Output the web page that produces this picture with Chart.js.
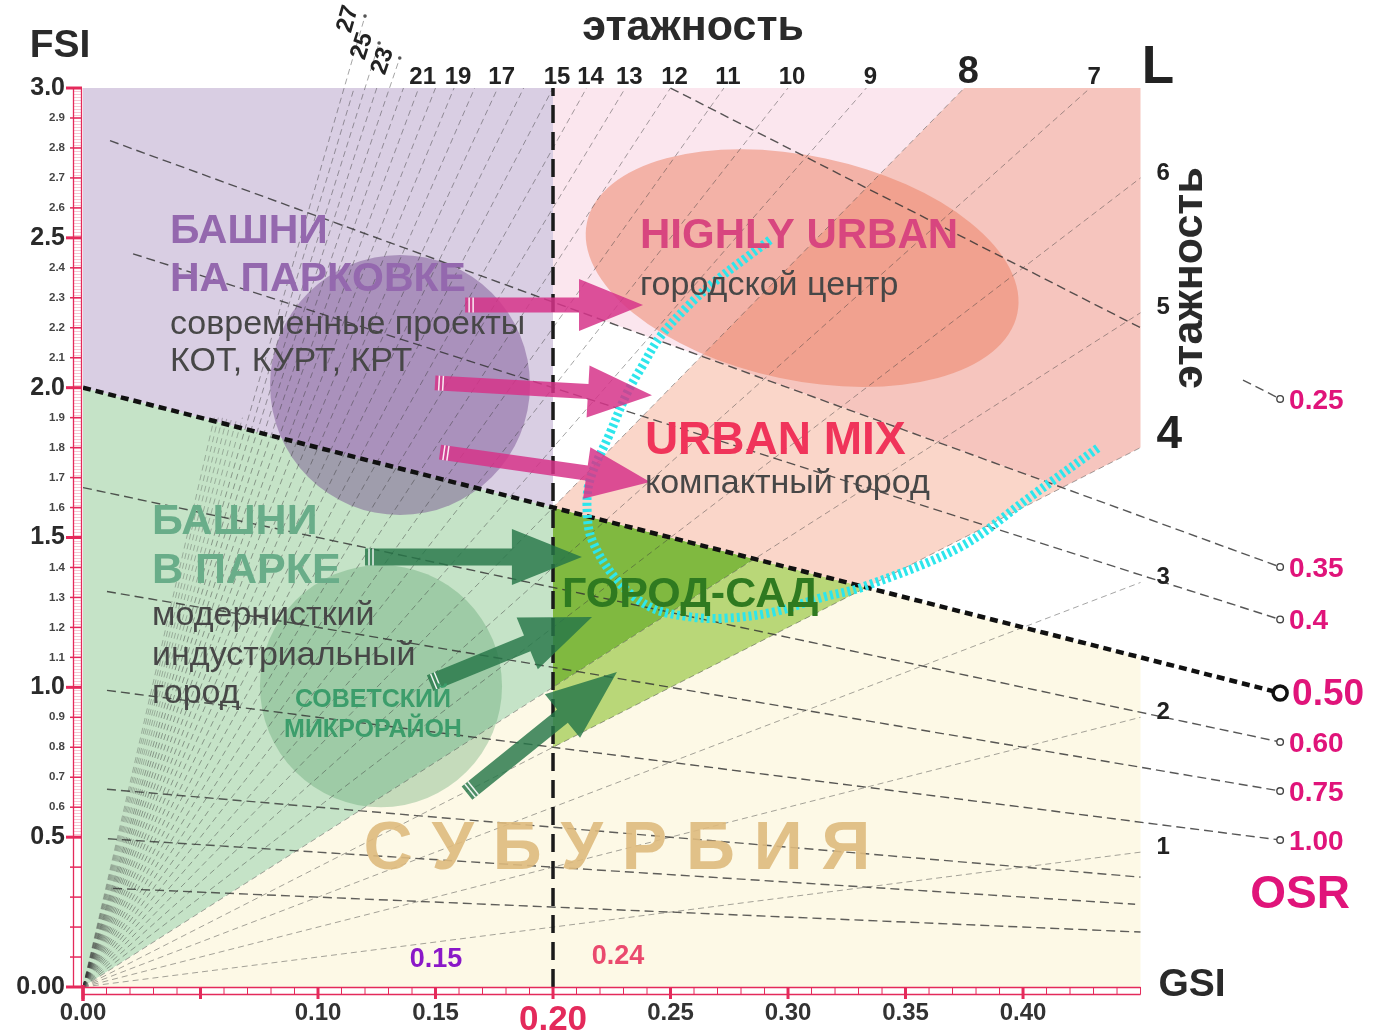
<!DOCTYPE html>
<html lang="ru">
<head>
<meta charset="utf-8">
<title>Spacematrix — этажность</title>
<script src="https://cdn.jsdelivr.net/npm/chart.js@4.4.1/dist/chart.umd.min.js"></script>
<style>
  html, body { margin: 0; padding: 0; background: #ffffff; }
  #contenedor { width: 1376px; height: 1030px; position: relative; }
</style>
</head>
<body>
<div id="contenedor"><canvas id="grafica-spacematrix" width="1376" height="1030"></canvas></div>
<script>
// --- 1. Datos del diagrama ---
// Líneas de pisos (L): FSI = L * GSI
const pisosLineas = [1, 2, 3, 4, 5, 6, 7, 8, 9, 10, 11, 12, 13, 14, 15, 16, 17, 18, 19, 20, 21, 22, 23, 24, 25, 26, 27];
const pisosCortos = [28, 29, 30, 31, 32, 33, 34];
const alturaPisosCortos = 1.9;
const pisosArriba = [7, 8, 9, 10, 11, 12, 13, 14, 15, 17, 19, 21];
const pisosGirados = [23, 25, 27];
const alturaPisosGirados = [3.10, 3.15, 3.24];
const pisosDerecha = [1, 2, 3, 4, 5, 6];

// Líneas OSR: FSI = (1 - GSI) / OSR
const valoresOSR = [0.25, 0.35, 0.4, 0.5, 0.6, 0.75, 1.0];
const textosOSR = ['0.25', '0.35', '0.4', '0.50', '0.60', '0.75', '1.00'];
const inicioOSR = [0.25, 0.0115, 0.0213, 0, 0, 0.0102, 0.0102];
const valoresOSRCortos = [1.5, 2.0, 3.0];
const inicioOSRCortos = [0.0102, 0.0106, 0.0128];
const finOSRCortos = [0.45, 0.4477, 0.45];

// Ejes
const ticksGSI = [0, 0.1, 0.15, 0.2, 0.25, 0.3, 0.35, 0.4];
const ticksFSI = [0, 0.1, 0.2, 0.3, 0.4, 0.5, 0.6, 0.7, 0.8, 0.9, 1.0, 1.1, 1.2, 1.3, 1.4, 1.5,
                  1.6, 1.7, 1.8, 1.9, 2.0, 2.1, 2.2, 2.3, 2.4, 2.5, 2.6, 2.7, 2.8, 2.9, 3.0];

// Curva cian (GSI, FSI)
const curvaCianGSI = [0.2923, 0.2826, 0.2681, 0.2570, 0.2455, 0.2383, 0.2315, 0.2243, 0.2157, 0.2145, 0.2166,
                      0.2272, 0.2413, 0.2583, 0.2740, 0.2936, 0.3149, 0.3319, 0.3732, 0.4030, 0.4319];
const curvaCianFSI = [2.493, 2.436, 2.349, 2.269, 2.169, 2.076, 1.982, 1.849, 1.692, 1.592, 1.492,
                      1.358, 1.268, 1.235, 1.231, 1.251, 1.301, 1.335, 1.468, 1.635, 1.799];

// --- 2. Límites y estilo ---
const FAMILIA = '"Liberation Sans", Arial, sans-serif';
const GSI_VISTA = 0.5502;
const FSI_VISTA = 3.2937;
const GSI_TABLA = 0.45;
const FSI_TABLA = 3.0;
const GSI_LIMITE = 0.2;
const GSI_ETIQUETA_OSR = 0.5094;
const ROJO = '#e42a5b';
const MAGENTA = '#e0147a';

const fsiOSR = (osr, g) => (1 - g) / osr;
// intersección línea de pisos L con línea OSR
const cruce = (L, osr) => { const g = 1 / (L * osr + 1); return [g, L * g]; };

// Zonas de color
const zonas = [
  { color: '#d9cee3', puntos: [[0, fsiOSR(0.5, 0)], [0, FSI_TABLA], [GSI_LIMITE, FSI_TABLA], [GSI_LIMITE, fsiOSR(0.5, GSI_LIMITE)]] },
  { color: '#c5e3c7', puntos: [[0, 0], [0, fsiOSR(0.5, 0)], [GSI_LIMITE, fsiOSR(0.5, GSI_LIMITE)], [GSI_LIMITE, 5 * GSI_LIMITE]] },
  { color: '#fdf9e6', puntos: [[0, 0], [GSI_LIMITE, 5 * GSI_LIMITE], [GSI_LIMITE, 4 * GSI_LIMITE], cruce(4, 0.5), [GSI_TABLA, fsiOSR(0.5, GSI_TABLA)], [GSI_TABLA, 0]] },
  { color: '#80b940', puntos: [[GSI_LIMITE, fsiOSR(0.5, GSI_LIMITE)], [GSI_LIMITE, 5 * GSI_LIMITE], cruce(5, 0.5)] },
  { color: '#b9d778', puntos: [[GSI_LIMITE, 5 * GSI_LIMITE], [GSI_LIMITE, 4 * GSI_LIMITE], cruce(4, 0.5), cruce(5, 0.5)] },
  { color: '#fbe6ee', puntos: [[GSI_LIMITE, FSI_TABLA], [FSI_TABLA / 8, FSI_TABLA], cruce(8, 0.35), [GSI_LIMITE, fsiOSR(0.35, GSI_LIMITE)]] },
  { color: '#f6c5be', puntos: [cruce(8, 0.35), [FSI_TABLA / 8, FSI_TABLA], [GSI_TABLA, FSI_TABLA], [GSI_TABLA, 4 * GSI_TABLA], cruce(4, 0.35)] },
  { color: '#fad6c9', puntos: [[GSI_LIMITE, 8 * GSI_LIMITE], cruce(8, 0.35), cruce(4, 0.35), cruce(4, 0.5)] }
];

// Manchas (círculos / elipse): centro y radios en unidades de datos
const manchas = [
  { g: 0.1349, f: 2.009, rg: 0.0553, rf: 0.434, giro: 0, color: 'rgba(112, 72, 140, 0.45)' },
  { g: 0.1268, f: 1.004, rg: 0.0515, rf: 0.404, giro: 0, color: 'rgba(70, 150, 90, 0.30)' },
  { g: 0.3060, f: 2.399, rg: 0.0936, rf: 0.374, giro: 12, color: 'rgba(236, 125, 95, 0.50)' }
];

// Flechas [GSI inicio, FSI inicio, GSI fin, FSI fin]
const flechasRosas = [[0.1626, 2.276, 0.2383, 2.276], [0.1498, 2.016, 0.2421, 1.975], [0.1519, 1.785, 0.2413, 1.685]];
const flechasVerdes = [[0.1200, 1.435, 0.2123, 1.435], [0.1477, 1.014, 0.2166, 1.235], [0.1634, 0.647, 0.2272, 1.051]];

// Textos
const textos = [
  { t: 'БАШНИ', g: 0.0370, f: 2.519, fuente: 'bold 41px', color: '#9468ae' },
  { t: 'НА ПАРКОВКЕ', g: 0.0370, f: 2.359, fuente: 'bold 41px', color: '#9468ae' },
  { t: 'современные проекты', g: 0.0370, f: 2.209, fuente: '34px', color: '#474747' },
  { t: 'КОТ, КУРТ, КРТ', g: 0.0370, f: 2.086, fuente: '34px', color: '#474747' },
  { t: 'HIGHLY URBAN', g: 0.2370, f: 2.506, fuente: 'bold 42px', color: '#d8467f' },
  { t: 'городской центр', g: 0.2370, f: 2.339, fuente: '34px', color: '#474747' },
  { t: 'URBAN MIX', g: 0.2391, f: 1.822, fuente: 'bold 46px', color: '#f0345a' },
  { t: 'компактный город', g: 0.2391, f: 1.679, fuente: '34px', color: '#474747' },
  { t: 'БАШНИ', g: 0.0294, f: 1.552, fuente: 'bold 43px', color: '#69ad89' },
  { t: 'В ПАРКЕ', g: 0.0294, f: 1.388, fuente: 'bold 43px', color: '#69ad89' },
  { t: 'модернисткий', g: 0.0294, f: 1.238, fuente: '34px', color: '#474747' },
  { t: 'индустриальный', g: 0.0294, f: 1.105, fuente: '34px', color: '#474747' },
  { t: 'город', g: 0.0294, f: 0.978, fuente: '34px', color: '#474747' },
  { t: 'СОВЕТСКИЙ', g: 0.1234, f: 0.958, fuente: 'bold 25px', color: '#3c9d6b', alin: 'center' },
  { t: 'МИКРОРАЙОН', g: 0.1234, f: 0.858, fuente: 'bold 25px', color: '#3c9d6b', alin: 'center' },
  { t: 'ГОРОД-САД', g: 0.2038, f: 1.308, fuente: 'bold 43px', color: '#2f7a20' },
  { t: 'С У Б У Р Б И Я', g: 0.2272, f: 0.457, fuente: 'bold 68px', color: 'rgba(222, 186, 125, 0.9)', alin: 'center' },
  { t: '0.15', g: 0.1502, f: 0.090, fuente: 'bold 27px', color: '#8a18c8', alin: 'center' },
  { t: '0.24', g: 0.2277, f: 0.100, fuente: 'bold 27px', color: '#ea4a6e', alin: 'center' },
  { t: 'FSI', g: -0.0098, f: 3.140, fuente: 'bold 39px', color: '#2a2a2a', alin: 'center' },
  { t: 'GSI', g: 0.4719, f: 0.0067, fuente: 'bold 39px', color: '#2a2a2a', alin: 'center' },
  { t: 'OSR', g: 0.5179, f: 0.307, fuente: 'bold 46px', color: MAGENTA, alin: 'center' },
  { t: 'L', g: 0.4574, f: 3.067, fuente: 'bold 53px', color: '#222222', alin: 'center' },
  { t: 'этажность', g: 0.2596, f: 3.200, fuente: 'bold 43px', color: '#2a2a2a', alin: 'center' },
  { t: 'этажность', g: 0.4711, f: 2.366, fuente: 'bold 43px', color: '#2a2a2a', alin: 'center', giro: -90 }
];

// --- 3. Construcción de datasets ---
function puntoFinalPiso(L) {
  if (L <= 6) return { x: GSI_TABLA, y: L * GSI_TABLA };
  const idx = pisosGirados.indexOf(L);
  const fTope = idx >= 0 ? alturaPisosGirados[idx] : FSI_TABLA;
  return { x: fTope / L, y: fTope };
}

const estiloPiso = { borderColor: 'rgba(55, 55, 55, 0.45)', borderWidth: 1, borderDash: [6, 4] };
const datasets = [];

pisosLineas.forEach(L => {
  datasets.push({ ...estiloPiso, order: 6, data: [{ x: 0, y: 0 }, puntoFinalPiso(L)] });
});
pisosCortos.forEach(L => {
  datasets.push({ ...estiloPiso, borderColor: 'rgba(55, 55, 55, 0.32)', order: 6,
    data: [{ x: 0, y: 0 }, { x: alturaPisosCortos / L, y: alturaPisosCortos }] });
});

valoresOSR.forEach((osr, i) => {
  const g0 = inicioOSR[i];
  let puntos = [{ x: g0, y: fsiOSR(osr, g0) }, { x: GSI_ETIQUETA_OSR, y: fsiOSR(osr, GSI_ETIQUETA_OSR) }];
  if (osr === 0.25) { // tramo oculto detrás del rótulo "этажность"
    puntos = [{ x: g0, y: fsiOSR(osr, g0) }, { x: GSI_TABLA, y: fsiOSR(osr, GSI_TABLA) }, { x: GSI_TABLA, y: null },
              { x: 0.4936, y: fsiOSR(osr, 0.4936) }, { x: GSI_ETIQUETA_OSR, y: fsiOSR(osr, GSI_ETIQUETA_OSR) }];
  }
  const esClave = osr === 0.5;
  datasets.push({
    order: esClave ? 3 : 5,
    data: puntos,
    borderColor: esClave ? '#111111' : 'rgba(50, 50, 50, 0.82)',
    borderWidth: esClave ? 4.5 : 1.4,
    borderDash: esClave ? [8, 5] : [9, 5]
  });
});
valoresOSRCortos.forEach((osr, i) => {
  datasets.push({
    order: 5, borderColor: 'rgba(50, 50, 50, 0.78)', borderWidth: 1.4, borderDash: [9, 5],
    data: [{ x: inicioOSRCortos[i], y: fsiOSR(osr, inicioOSRCortos[i]) }, { x: finOSRCortos[i], y: fsiOSR(osr, finOSRCortos[i]) }]
  });
});

// Línea vertical GSI = 0.20
datasets.push({ order: 3, borderColor: '#1a1a1a', borderWidth: 3.5, borderDash: [18, 9],
  data: [{ x: GSI_LIMITE, y: 0 }, { x: GSI_LIMITE, y: FSI_TABLA }] });

// Curva cian
datasets.push({ order: 1, borderColor: '#2de6ec', borderWidth: 9, borderDash: [3, 3], tension: 0.35,
  borderCapStyle: 'butt', data: curvaCianGSI.map((g, i) => ({ x: g, y: curvaCianFSI[i] })) });

datasets.forEach(d => { d.showLine = true; d.pointRadius = 0; d.fill = false; if (d.tension === undefined) d.tension = 0; });

// --- 4. Plugins de dibujo ---
function aPixel(chart, g, f) {
  return [chart.scales.x.getPixelForValue(g), chart.scales.y.getPixelForValue(f)];
}

function dibujarFlecha(ctx, x1, y1, x2, y2, color, cabeza, anchoCabeza, anchoCuerpo) {
  const ang = Math.atan2(y2 - y1, x2 - x1);
  const largo = Math.hypot(x2 - x1, y2 - y1);
  ctx.save();
  ctx.translate(x1, y1);
  ctx.rotate(ang);
  ctx.beginPath();
  ctx.moveTo(0, -anchoCuerpo);
  ctx.lineTo(largo - cabeza, -anchoCuerpo);
  ctx.lineTo(largo - cabeza, -anchoCabeza);
  ctx.lineTo(largo, 0);
  ctx.lineTo(largo - cabeza, anchoCabeza);
  ctx.lineTo(largo - cabeza, anchoCuerpo);
  ctx.lineTo(0, anchoCuerpo);
  ctx.closePath();
  ctx.fillStyle = color;
  ctx.fill();
  // rayas blancas en la cola
  ctx.strokeStyle = 'rgba(255,255,255,0.9)';
  ctx.lineWidth = 1.5;
  [4, 8].forEach(d => { ctx.beginPath(); ctx.moveTo(d, -anchoCuerpo); ctx.lineTo(d, anchoCuerpo); ctx.stroke(); });
  ctx.restore();
}

function escribir(ctx, px, py, t, fuente, color, alin, giro) {
  ctx.save();
  ctx.font = fuente + ' ' + FAMILIA;
  ctx.fillStyle = color;
  ctx.textAlign = alin || 'left';
  ctx.textBaseline = 'middle';
  ctx.translate(px, py);
  if (giro) ctx.rotate(giro * Math.PI / 180);
  ctx.fillText(t, 0, 0);
  ctx.restore();
}

const pluginFondo = {
  id: 'fondo',
  beforeDatasetsDraw(chart) {
    const ctx = chart.ctx;
    ctx.save();
    zonas.forEach(z => {
      ctx.beginPath();
      z.puntos.forEach(([g, f], i) => {
        const [px, py] = aPixel(chart, g, f);
        if (i === 0) ctx.moveTo(px, py); else ctx.lineTo(px, py);
      });
      ctx.closePath();
      ctx.fillStyle = z.color;
      ctx.fill();
    });
    manchas.forEach(m => {
      const [cx, cy] = aPixel(chart, m.g, m.f);
      const [ex, ey] = aPixel(chart, m.g + m.rg, m.f + m.rf);
      ctx.beginPath();
      ctx.ellipse(cx, cy, Math.abs(ex - cx), Math.abs(ey - cy), m.giro * Math.PI / 180, 0, Math.PI * 2);
      ctx.fillStyle = m.color;
      ctx.fill();
    });
    ctx.restore();
  }
};

const pluginAnotaciones = {
  id: 'anotaciones',
  afterDatasetsDraw(chart) {
    const ctx = chart.ctx;
    // flechas
    flechasRosas.forEach(([g1, f1, g2, f2]) => {
      const [x1, y1] = aPixel(chart, g1, f1), [x2, y2] = aPixel(chart, g2, f2);
      dibujarFlecha(ctx, x1, y1, x2, y2, 'rgba(214, 52, 138, 0.85)', 64, 26, 7.5);
    });
    flechasVerdes.forEach(([g1, f1, g2, f2]) => {
      const [x1, y1] = aPixel(chart, g1, f1), [x2, y2] = aPixel(chart, g2, f2);
      dibujarFlecha(ctx, x1, y1, x2, y2, 'rgba(38, 118, 72, 0.82)', 70, 28, 8.5);
    });

    // textos
    textos.forEach(it => {
      const [px, py] = aPixel(chart, it.g, it.f);
      escribir(ctx, px, py, it.t, it.fuente, it.color, it.alin, it.giro);
    });

    // etiquetas de pisos arriba
    pisosArriba.forEach(L => {
      const [px, py] = aPixel(chart, FSI_TABLA / L, FSI_TABLA);
      const grande = L === 8;
      escribir(ctx, px + 4, py - (grande ? 15 : 11), String(L), grande ? 'bold 38px' : 'bold 24px', '#222222', 'center');
    });
    // etiquetas giradas 23, 25, 27
    pisosGirados.forEach((L, i) => {
      const f = alturaPisosGirados[i];
      const [px, py] = aPixel(chart, f / L, f);
      const [ox, oy] = aPixel(chart, 0, 0);
      const ang = Math.atan2(py - oy, px - ox) * 180 / Math.PI;
      ctx.save();
      ctx.beginPath(); ctx.arc(px, py, 1.8, 0, Math.PI * 2); ctx.fillStyle = '#555'; ctx.fill();
      ctx.restore();
      escribir(ctx, px - 17, py + 3, String(L), 'bold 24px', '#222222', 'center', ang);
    });
    // etiquetas de pisos a la derecha
    pisosDerecha.forEach(L => {
      const [px, py] = aPixel(chart, GSI_TABLA, L * GSI_TABLA);
      const grande = L === 4;
      escribir(ctx, px + 16, py - (grande ? 12 : 5), String(L), grande ? 'bold 46px' : 'bold 24px', '#222222', 'left');
    });

    // marcadores y etiquetas OSR
    valoresOSR.forEach((osr, i) => {
      const [px, py] = aPixel(chart, GSI_ETIQUETA_OSR, fsiOSR(osr, GSI_ETIQUETA_OSR));
      const esClave = osr === 0.5;
      ctx.save();
      ctx.beginPath();
      ctx.arc(px, py, esClave ? 7 : 3.3, 0, Math.PI * 2);
      ctx.fillStyle = '#ffffff';
      ctx.fill();
      ctx.lineWidth = esClave ? 3.5 : 1.4;
      ctx.strokeStyle = esClave ? '#111111' : '#444444';
      ctx.stroke();
      ctx.restore();
      escribir(ctx, px + (esClave ? 12 : 9), py + 2, textosOSR[i], esClave ? 'bold 37px' : 'bold 28px', MAGENTA, 'left');
    });
  },
  afterDraw(chart) {
    // reglas rojas de los ejes
    const ctx = chart.ctx;
    const sx = chart.scales.x, sy = chart.scales.y;
    const xEje = sy.right, yEje = sx.top;
    const yTope = sy.getPixelForValue(FSI_TABLA);
    const xFin = sx.getPixelForValue(GSI_TABLA);
    ctx.save();
    // eje vertical: rayado fino
    ctx.lineWidth = 0.6;
    ctx.strokeStyle = 'rgba(228, 42, 91, 0.45)';
    for (let v = 50; v <= 300; v++) {
      const py = Math.round(sy.getPixelForValue(v / 100)) + 0.5;
      ctx.beginPath(); ctx.moveTo(xEje - 9, py); ctx.lineTo(xEje - 1, py); ctx.stroke();
    }
    ctx.strokeStyle = ROJO;
    ctx.lineWidth = 1.3;
    ctx.beginPath();
    ctx.moveTo(xEje - 9.5, yEje); ctx.lineTo(xEje - 9.5, yTope);
    ctx.moveTo(xEje - 1.5, yEje); ctx.lineTo(xEje - 1.5, yTope);
    ctx.stroke();
    ticksFSI.forEach(v => {
      const py = sy.getPixelForValue(v);
      const mayor = esMayorFSI(v);
      ctx.lineWidth = mayor ? 3 : 1.5;
      ctx.beginPath(); ctx.moveTo(xEje - (mayor ? 17 : 13), py); ctx.lineTo(xEje - 1, py); ctx.stroke();
    });
    // eje horizontal
    ctx.lineWidth = 1.3;
    ctx.beginPath();
    ctx.moveTo(xEje, yEje + 0.5); ctx.lineTo(xFin, yEje + 0.5);
    ctx.moveTo(xEje, yEje + 7.5); ctx.lineTo(xFin, yEje + 7.5);
    ctx.stroke();
    for (let v = 0; v <= 45; v++) {
      const px = sx.getPixelForValue(v / 100);
      const mayor = v % 5 === 0 && v < 45;
      ctx.lineWidth = mayor ? 3 : 1;
      ctx.beginPath(); ctx.moveTo(px, yEje); ctx.lineTo(px, yEje + (mayor ? 12 : 7.5)); ctx.stroke();
    }
    // cruz en el origen
    ctx.lineWidth = 3.5;
    ctx.beginPath(); ctx.moveTo(xEje, yEje - 2); ctx.lineTo(xEje, yEje + 14); ctx.stroke();
    ctx.restore();
  }
};

// --- 5. Gráfica ---
const esMayorFSI = v => Math.abs(v * 2 - Math.round(v * 2)) < 1e-6;

const grafica = new Chart(document.getElementById('grafica-spacematrix').getContext('2d'), {
  type: 'scatter',
  data: { datasets: datasets },
  options: {
    responsive: false,
    animation: false,
    events: [],
    layout: { padding: 0, autoPadding: false },
    plugins: { legend: { display: false }, tooltip: { enabled: false } },
    scales: {
      x: {
        type: 'linear', min: 0, max: GSI_VISTA,
        afterFit(escala) { escala.height = 43; escala.paddingLeft = 0; escala.paddingRight = 0; },
        afterBuildTicks(escala) { escala.ticks = ticksGSI.map(v => ({ value: v })); },
        grid: { display: false, drawTicks: false },
        border: { display: false },
        ticks: {
          autoSkip: false, maxRotation: 0, padding: 12,
          callback: v => Number(v).toFixed(2),
          color: c => (c.tick && c.tick.value === GSI_LIMITE ? ROJO : '#333333'),
          font: c => (c.tick && c.tick.value === GSI_LIMITE
            ? { family: FAMILIA, size: 35, weight: 'bold' }
            : { family: FAMILIA, size: 24, weight: 'bold' })
        }
      },
      y: {
        type: 'linear', min: 0, max: FSI_VISTA,
        // ancho fijo y sin relleno extra arriba/abajo (el relleno de etiquetas movía el área)
        afterFit(escala) { escala.width = 83; escala.paddingTop = 0; escala.paddingBottom = 0; },
        afterBuildTicks(escala) { escala.ticks = ticksFSI.map(v => ({ value: v })); },
        grid: { display: false, drawTicks: false },
        border: { display: false },
        ticks: {
          autoSkip: false, padding: 18,
          callback: v => (v === 0 ? '0.00' : (v < 0.45 ? '' : Number(v).toFixed(1))),
          color: c => (c.tick && esMayorFSI(c.tick.value) ? '#2a2a2a' : '#444444'),
          font: c => (c.tick && esMayorFSI(c.tick.value)
            ? { family: FAMILIA, size: 25, weight: 'bold' }
            : { family: FAMILIA, size: 11.5, weight: 'bold' })
        }
      }
    }
  },
  plugins: [pluginFondo, pluginAnotaciones]
});
</script>
</body>
</html>
